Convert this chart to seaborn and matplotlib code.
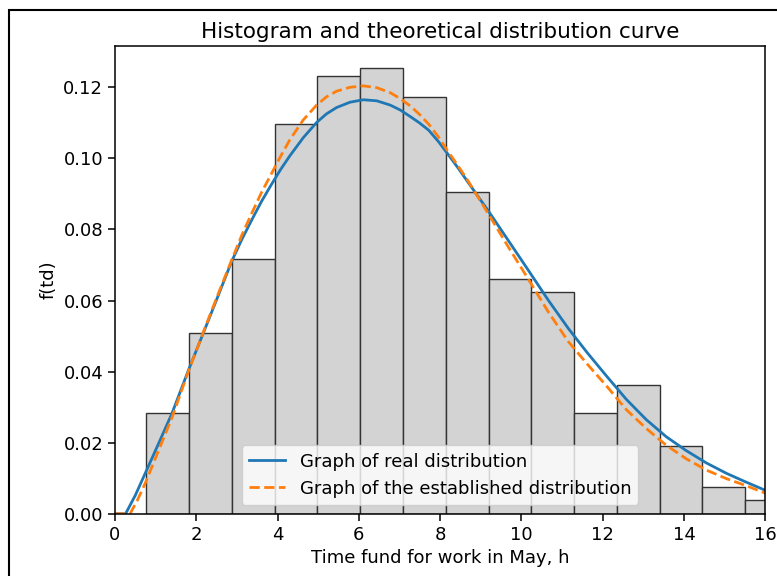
import numpy as np
import pandas as pd
import matplotlib
matplotlib.use("Agg")
import matplotlib.pyplot as plt
import seaborn as sns

# histogram (density per bin)
bin_edges = [0.77, 1.82, 2.87, 3.93, 4.98, 6.03, 7.08, 8.14, 9.19, 10.24,
             11.29, 12.35, 13.40, 14.45, 15.50, 16.56]
bin_heights = [0.0284, 0.0510, 0.0718, 0.1098, 0.1233, 0.1253, 0.1174, 0.0906,
               0.0661, 0.0625, 0.0284, 0.0361, 0.0190, 0.0075, 0.0038]

# curve of the real distribution
real_x = [0.0, 0.26, 0.5, 0.74, 1.05, 1.40, 1.81, 2.22, 2.55, 2.87, 3.12, 3.37,
          3.60, 3.84, 4.07, 4.30, 4.63, 4.96, 5.20, 5.45, 5.78, 6.11, 6.44,
          6.77, 7.02, 7.26, 7.49, 7.72, 7.96, 8.19, 8.44, 8.69, 9.18, 9.67,
          10.17, 10.66, 11.15, 11.62, 12.09, 12.58, 13.07, 13.56, 14.05, 14.55,
          15.04, 15.53, 16.0]
real_y = [0.0, 0.0, 0.0052, 0.0113, 0.0192, 0.0282, 0.0405, 0.0522, 0.0617,
          0.0710, 0.0772, 0.0828, 0.0878, 0.0925, 0.0968, 0.1007, 0.1058,
          0.1101, 0.1125, 0.1143, 0.1158, 0.1165, 0.1162, 0.1150, 0.1136,
          0.1118, 0.1100, 0.1079, 0.1047, 0.1012, 0.0973, 0.0932, 0.0853,
          0.0770, 0.0685, 0.0601, 0.0522, 0.0453, 0.0388, 0.0322, 0.0265,
          0.0217, 0.0178, 0.0143, 0.0114, 0.0089, 0.0066]

# curve of the established distribution
est_x = [0.0, 0.37, 0.55, 0.74, 1.05, 1.40, 1.81, 2.22, 2.55, 2.87, 3.12, 3.37,
         3.60, 3.84, 4.07, 4.30, 4.63, 4.96, 5.20, 5.45, 5.78, 6.11, 6.44,
         6.77, 7.02, 7.26, 7.49, 7.72, 7.96, 8.19, 8.44, 8.69, 9.18, 9.67,
         10.17, 10.66, 11.15, 11.62, 12.09, 12.58, 13.07, 13.56, 14.05, 14.55,
         15.04, 15.53, 16.0]
est_y = [0.0, 0.0, 0.0038, 0.0085, 0.0172, 0.0270, 0.0402, 0.0525, 0.0622,
         0.0714, 0.0784, 0.0847, 0.0903, 0.0955, 0.1005, 0.1052, 0.1108,
         0.1150, 0.1173, 0.1189, 0.1200, 0.1204, 0.1199, 0.1185, 0.1168,
         0.1148, 0.1124, 0.1096, 0.1060, 0.1020, 0.0979, 0.0936, 0.0845,
         0.0752, 0.0660, 0.0568, 0.0485, 0.0421, 0.0360, 0.0293, 0.0240,
         0.0193, 0.0155, 0.0123, 0.0099, 0.0079, 0.0058]

centers = [(a + b) / 2 for a, b in zip(bin_edges[:-1], bin_edges[1:])]
hist_df = pd.DataFrame({"td": centers, "density": bin_heights})

plt.rcParams["font.size"] = 13
plt.rcParams["axes.titlesize"] = 15.5
plt.rcParams["axes.labelsize"] = 13
plt.rcParams["xtick.labelsize"] = 13
plt.rcParams["ytick.labelsize"] = 13

fig = plt.figure(figsize=(7.77, 5.76), dpi=100)
ax = fig.add_axes([0.148, 0.108, 0.837, 0.812])

# histogram bars
sns.histplot(data=hist_df, x="td", weights="density", bins=bin_edges, stat="count",
             color="lightgray", edgecolor="#333333", linewidth=1.0, alpha=1.0, ax=ax)

# curves
sns.lineplot(x=real_x, y=real_y, color="tab:blue", linewidth=2.0,
             label="Graph of real distribution", ax=ax)
sns.lineplot(x=est_x, y=est_y, color="tab:orange", linewidth=2.0, linestyle="--",
             label="Graph of the established distribution", ax=ax)

ax.set_xlim(0, 16)
ax.set_ylim(0, 0.1316)
ax.set_title("Histogram and theoretical distribution curve")
ax.set_xlabel("Time fund for work in May, h")
ax.set_ylabel("f(td)")
ax.tick_params(length=5, width=1.1)
for s in ax.spines.values():
    s.set_linewidth(1.1)
ax.legend(loc="lower center", fontsize=13)

# frame around the picture as in the screenshot
frame = plt.Rectangle((9 / 777, -0.1), 1.2, 1 - 10 / 576 + 0.1, transform=fig.transFigure,
                      fill=False, edgecolor="black", linewidth=1.5)
fig.patches.append(frame)

fig.savefig("out.png", dpi=100)
plt.close()
